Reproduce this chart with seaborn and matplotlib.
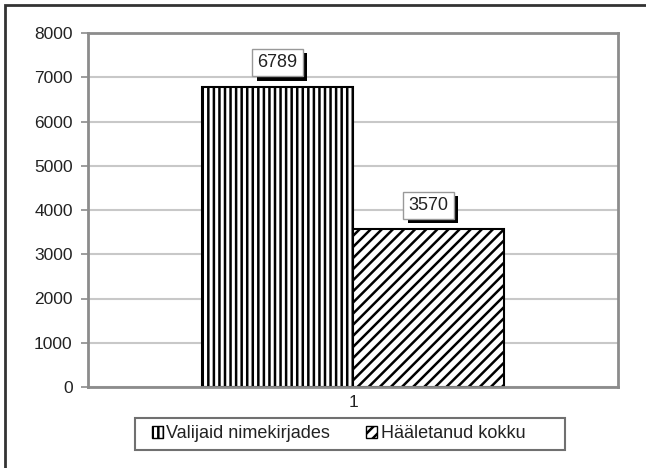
import matplotlib
matplotlib.use("Agg")
import matplotlib.pyplot as plt
import matplotlib.patheffects as pe
from matplotlib.patches import Patch, Rectangle
import seaborn as sns
import pandas as pd

categories = ["1"]
series = ["Valijaid nimekirjades", "Hääletanud kokku"]
values = [6789, 3570]
yticks = [0, 1000, 2000, 3000, 4000, 5000, 6000, 7000, 8000]
hatches = ["|||", "///"]

sns.set_theme(style="white")
plt.rcParams["font.family"] = ["Liberation Sans", "DejaVu Sans"]
plt.rcParams["hatch.linewidth"] = 1.8

df = pd.DataFrame({"cat": categories * len(series), "series": series, "value": values})

fig = plt.figure(figsize=(6.46, 4.68), dpi=100)
ax = fig.add_axes([88 / 646, 1 - 387 / 468, (618 - 88) / 646, (387 - 33) / 468])

sns.barplot(data=df, x="cat", y="value", hue="series", hue_order=series,
            palette=["white", "white"], width=0.57, dodge=True,
            edgecolor="black", linewidth=1.5, saturation=1, legend=False, ax=ax)

for cont, h in zip(ax.containers, hatches):
    for bar in cont:
        bar.set_hatch(h)
        bar.set_edgecolor("black")
    labels = ax.bar_label(cont, padding=11, fontsize=13, color="#222222",
                          bbox=dict(boxstyle="square,pad=0.28", facecolor="white",
                                    edgecolor="#999999", linewidth=1))
    for t in labels:
        t.get_bbox_patch().set_path_effects([
            pe.SimplePatchShadow(offset=(3.5, -3), shadow_rgbFace="black", alpha=1),
            pe.Normal()])

ax.set_xlim(-0.5, 0.5)
ax.set_ylim(0, 8000)
ax.set_yticks(yticks)
ax.set_yticklabels([str(v) for v in yticks])
ax.set_xlabel("")
ax.set_ylabel("")
ax.yaxis.grid(True, color="#c8c8c8", linewidth=1.5)
ax.set_axisbelow(True)
for s in ax.spines.values():
    s.set_color("#8c8c8c")
    s.set_linewidth(2)
ax.tick_params(axis="y", left=True, length=5, width=1.2, color="#8c8c8c",
               labelsize=12.5, labelcolor="#222222", pad=6)
ax.tick_params(axis="x", bottom=False, length=0, labelsize=12.5, labelcolor="#222222", pad=6)

handles = [Patch(facecolor="white", edgecolor="black", hatch=h, label=s, linewidth=1)
           for h, s in zip(hatches, series)]
leg = fig.legend(handles=handles, loc="center left", bbox_to_anchor=(152 / 646, 1 - 434 / 468),
                 ncol=2, fontsize=13, frameon=False, handlelength=0.6,
                 handleheight=0.6, handletextpad=0.2, columnspacing=2.0,
                 borderpad=0, borderaxespad=0)
for t in leg.get_texts():
    t.set_color("#222222")

fig.patches.append(Rectangle((135 / 646, 1 - 450 / 468), 430 / 646, 32 / 468,
                             transform=fig.transFigure, fill=False,
                             edgecolor="#707070", linewidth=1.5, zorder=5))

fig.patches.append(Rectangle((5 / 646, -0.2), 1.2, 1.2 - 5 / 468,
                             transform=fig.transFigure, fill=False,
                             edgecolor="#333333", linewidth=2, zorder=10))

fig.savefig("out.png", dpi=100)
